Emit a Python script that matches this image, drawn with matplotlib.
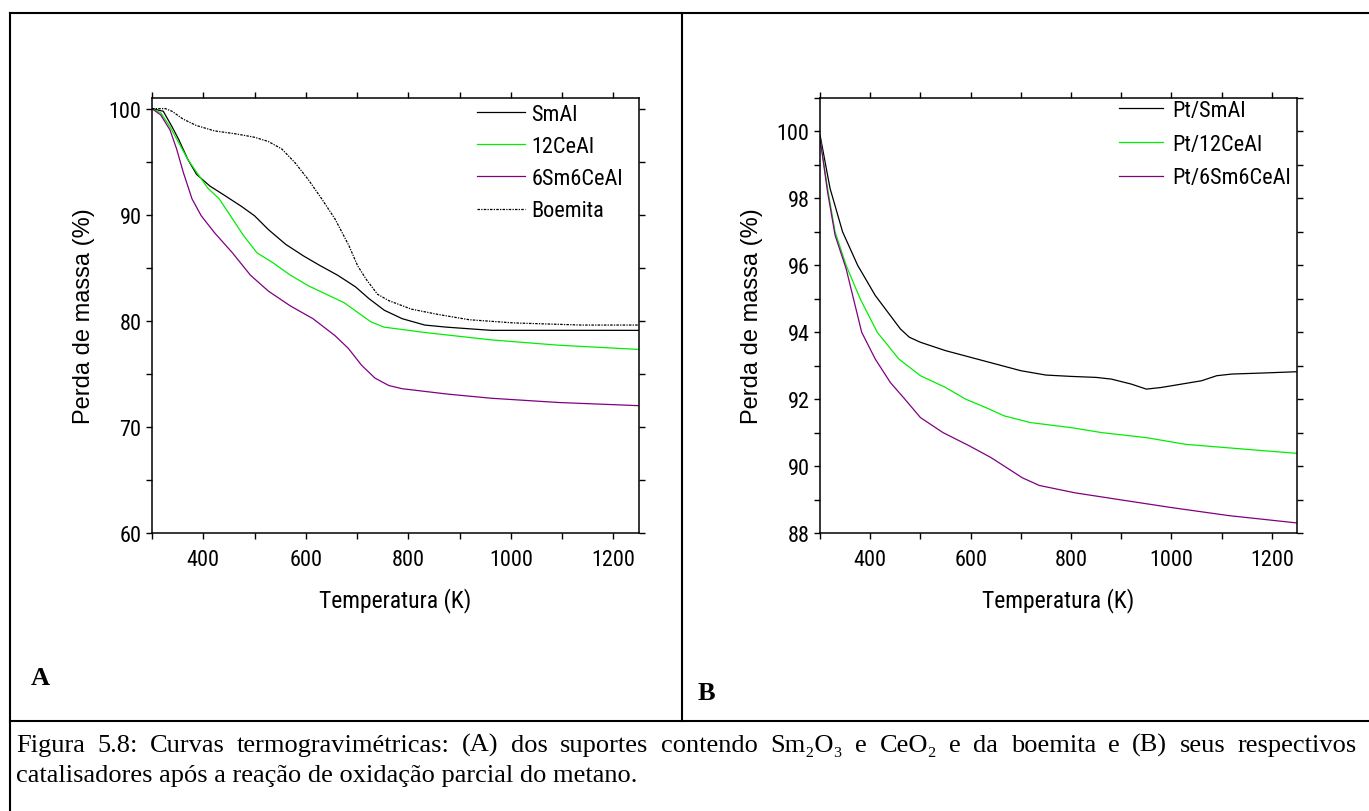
import matplotlib
matplotlib.use("Agg")
import matplotlib.pyplot as plt
from matplotlib import font_manager
from matplotlib.lines import Line2D
from matplotlib.ticker import MultipleLocator

# painel A: suportes e boemita
t_smal = [300, 322, 339, 352, 370, 387, 413, 439, 474, 500, 527, 561, 596, 628, 662, 697, 723, 753, 788, 832, 875, 962, 1050, 1250]
m_smal = [100, 99.75, 98.3, 97.1, 95.2, 93.8, 92.7, 91.9, 90.8, 89.9, 88.6, 87.2, 86.1, 85.2, 84.3, 83.2, 82.1, 81.0, 80.2, 79.6, 79.4, 79.1, 79.1, 79.1]

t_12ceal = [300, 317, 335, 352, 370, 387, 409, 431, 453, 479, 505, 535, 570, 605, 640, 675, 701, 727, 753, 832, 962, 1093, 1250]
m_12ceal = [100, 99.6, 98.3, 96.8, 95.2, 94.0, 92.5, 91.5, 89.9, 88.0, 86.4, 85.5, 84.3, 83.3, 82.5, 81.7, 80.8, 79.9, 79.4, 78.9, 78.2, 77.7, 77.3]

t_6sm6ceal = [300, 317, 335, 348, 361, 378, 396, 422, 457, 492, 527, 570, 614, 657, 683, 709, 735, 762, 788, 875, 962, 1093, 1250]
m_6sm6ceal = [100, 99.4, 98.0, 96.2, 94.0, 91.5, 89.9, 88.3, 86.4, 84.3, 82.8, 81.4, 80.2, 78.6, 77.4, 75.8, 74.6, 73.9, 73.6, 73.1, 72.7, 72.3, 72.0]

t_boemita = [300, 326, 339, 361, 387, 422, 466, 500, 527, 553, 579, 605, 631, 657, 684, 701, 718, 740, 762, 806, 858, 919, 1006, 1137, 1250]
m_boemita = [100, 100, 99.75, 99.0, 98.4, 97.9, 97.6, 97.3, 96.9, 96.2, 94.9, 93.3, 91.5, 89.6, 87.1, 85.2, 83.9, 82.5, 81.9, 81.1, 80.6, 80.1, 79.8, 79.6, 79.6]

# painel B: catalisadores
t_pt_smal = [300, 320, 345, 375, 410, 440, 460, 478, 500, 550, 600, 650, 700, 750, 800, 850, 880, 920, 950, 980, 1020, 1060, 1090, 1120, 1180, 1250]
m_pt_smal = [99.9, 98.3, 97.0, 96.0, 95.1, 94.5, 94.1, 93.85, 93.7, 93.45, 93.25, 93.05, 92.85, 92.72, 92.68, 92.65, 92.6, 92.45, 92.3, 92.35, 92.45, 92.55, 92.7, 92.75, 92.78, 92.82]

t_pt_12ceal = [300, 315, 330, 352, 380, 414, 457, 500, 550, 590, 630, 667, 719, 800, 861, 950, 1028, 1150, 1250]
m_pt_12ceal = [99.8, 98.3, 97.0, 96.0, 95.0, 94.0, 93.2, 92.7, 92.35, 92.0, 91.75, 91.5, 91.3, 91.15, 91.0, 90.85, 90.65, 90.5, 90.38]

t_pt_6sm6ceal = [300, 315, 330, 352, 383, 410, 440, 469, 500, 545, 598, 641, 703, 737, 808, 895, 1000, 1114, 1250]
m_pt_6sm6ceal = [99.8, 98.2, 96.9, 95.9, 94.0, 93.2, 92.5, 92.0, 91.45, 91.0, 90.6, 90.25, 89.65, 89.42, 89.2, 89.0, 88.76, 88.52, 88.3]

labels_a = ["SmAl", "12CeAl", "6Sm6CeAl", "Boemita"]
labels_b = ["Pt/SmAl", "Pt/12CeAl", "Pt/6Sm6CeAl"]

caption_1 = ("Figura 5.8: Curvas termogravimétricas: (A) dos suportes contendo Sm\u2082O\u2083 "
             "e CeO\u2082 e da boemita e (B) seus respectivos")
caption_2 = "catalisadores após a reação de oxidação parcial do metano."

GREEN = "#00ee00"
PURPLE = "#800080"

# fonte estreita para os números (tipo Arial Narrow), se houver
fonts = font_manager.fontManager.ttflist
names = {f.name for f in fonts}
narrow = {"family": "Liberation Sans", "stretch": "normal"}
for cand in ["Liberation Sans Narrow", "Arial Narrow", "Roboto Condensed", "Open Sans Condensed"]:
    if cand in names:
        narrow = {"family": cand, "stretch": "normal"}
        break
else:
    if any(f.name == "DejaVu Sans" and f.stretch == "condensed" for f in fonts):
        narrow = {"family": "DejaVu Sans", "stretch": "condensed"}
serif = ["Liberation Serif", "DejaVu Serif"]

W, H = 1369, 812
fig = plt.figure(figsize=(W / 100, H / 100), dpi=100)


def px_box(x0, y0, x1, y1):
    return [x0 / W, 1 - y1 / H, (x1 - x0) / W, (y1 - y0) / H]


def style_axes(ax, ylim, yticks, yminor):
    ax.set_xlim(300, 1250)
    ax.set_ylim(*ylim)
    ax.xaxis.set_major_locator(MultipleLocator(200))
    ax.xaxis.set_minor_locator(MultipleLocator(100))
    ax.set_yticks(yticks)
    ax.yaxis.set_minor_locator(MultipleLocator(yminor))
    ax.tick_params(which="both", direction="out", length=4.5, width=1,
                   top=True, right=True, labelsize=16, pad=3)
    ax.tick_params(axis="x", which="major", pad=7)
    for lab in ax.get_xticklabels() + ax.get_yticklabels():
        lab.set_fontfamily(narrow["family"])
        lab.set_fontstretch(narrow["stretch"])
    for sp in ax.spines.values():
        sp.set_linewidth(1.1)
    ax.set_xlabel("Temperatura (K)", fontsize=17, fontfamily=narrow["family"],
                  fontstretch=narrow["stretch"], labelpad=12)
    ax.set_ylabel("Perda de massa (%)", fontsize=17, fontfamily="Liberation Sans", labelpad=10)


leg_prop = {"family": narrow["family"], "stretch": narrow["stretch"], "size": 16}

ax_a = fig.add_axes(px_box(152, 99, 639, 534))
ax_a.plot(t_smal, m_smal, color="black", lw=0.9, label=labels_a[0])
ax_a.plot(t_12ceal, m_12ceal, color=GREEN, lw=0.9, label=labels_a[1])
ax_a.plot(t_6sm6ceal, m_6sm6ceal, color=PURPLE, lw=0.9, label=labels_a[2])
ax_a.plot(t_boemita, m_boemita, color="black", lw=0.9, ls=(0, (2, 1, 1, 1)), label=labels_a[3])
style_axes(ax_a, (60, 101), [60, 70, 80, 90, 100], 5)
ax_a.legend(loc="upper left", bbox_to_anchor=(477 / W, 1 - 105 / H), bbox_transform=fig.transFigure,
            frameon=False, borderpad=0, borderaxespad=0, handlelength=2.15, handletextpad=0.3,
            labelspacing=0.5, prop=leg_prop)

ax_b = fig.add_axes(px_box(820, 99, 1297, 534))
ax_b.plot(t_pt_smal, m_pt_smal, color="black", lw=0.9, label=labels_b[0])
ax_b.plot(t_pt_12ceal, m_pt_12ceal, color=GREEN, lw=0.9, label=labels_b[1])
ax_b.plot(t_pt_6sm6ceal, m_pt_6sm6ceal, color=PURPLE, lw=0.9, label=labels_b[2])
style_axes(ax_b, (88, 101), [88, 90, 92, 94, 96, 98, 100], 1)
ax_b.legend(loc="upper left", bbox_to_anchor=(1119 / W, 1 - 101 / H), bbox_transform=fig.transFigure,
            frameon=False, borderpad=0, borderaxespad=0, handlelength=2.0, handletextpad=0.4,
            labelspacing=0.57, prop=leg_prop)

# bordas da tabela
for xs, ys in [((10, W), (14, 14)), ((10, 10), (14, H)), ((682, 682), (14, 722)), ((10, W), (722, 722))]:
    fig.add_artist(Line2D([x / W for x in xs], [1 - y / H for y in ys], color="black", lw=1.5,
                          transform=fig.transFigure))

fig.text(31 / W, 1 - 685 / H, "A", fontsize=19, fontweight="bold", fontfamily=serif, va="baseline")
fig.text(698 / W, 1 - 700 / H, "B", fontsize=19, fontweight="bold", fontfamily=serif, va="baseline")

# legenda da figura, primeira linha justificada
renderer = fig.canvas.get_renderer()
words = caption_1.split(" ")
items = [fig.text(0, 1 - 752 / H, w, fontsize=19, fontfamily=serif, va="baseline") for w in words]
widths = [t.get_window_extent(renderer).width for t in items]
gap = (1357 - 16 - sum(widths)) / (len(words) - 1)
x = 16
for t, w in zip(items, widths):
    t.set_x(x / W)
    x += w + gap
fig.text(16 / W, 1 - 782 / H, caption_2, fontsize=19, fontfamily=serif, va="baseline")

fig.savefig("out.png", dpi=100)
